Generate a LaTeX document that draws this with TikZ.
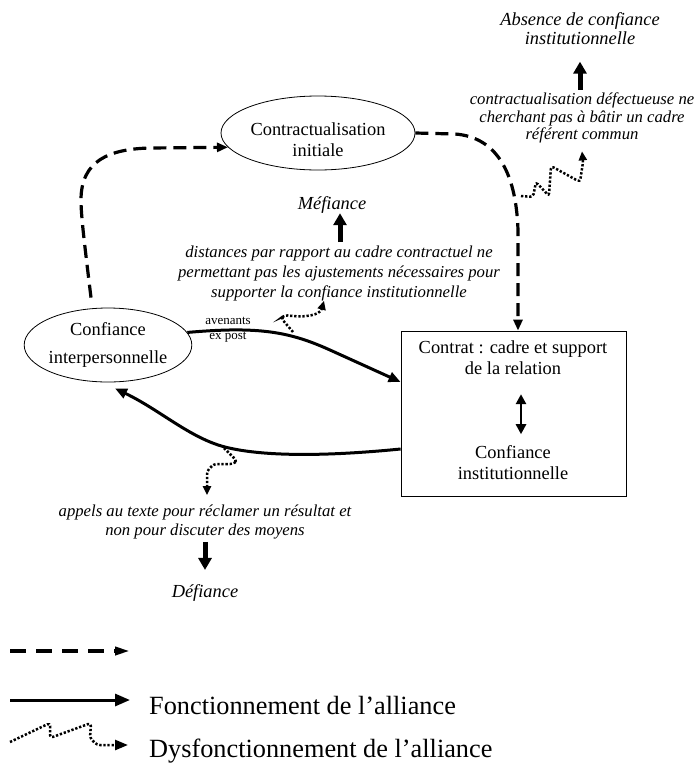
\documentclass[tikz,border=0pt]{standalone}
\usepackage{fontspec}
\setmainfont{Liberation Serif}
\usetikzlibrary{arrows.meta,shapes.geometric}
\tikzset{
 txt/.style={inner sep=0pt, align=center, font=\fontsize{18.4}{21}\selectfont},
 itx/.style={inner sep=0pt, align=center, font=\itshape\fontsize{16.7}{20}\selectfont},
 concl/.style={inner sep=0pt, align=center, font=\itshape\fontsize{18.4}{19}\selectfont},
 ell/.style={draw, ellipse, line width=0.8pt, inner sep=0pt},
 dashedarrow/.style={line width=3.2pt, dash pattern=on 13pt off 7pt, -{Triangle[length=11pt,width=9pt]}},
 solidarrow/.style={line width=3pt, -{Triangle[length=12pt,width=10pt]}},
 dottedarrow/.style={line width=2.5pt, dash pattern=on 2.3pt off 1.8pt, rounded corners=3pt, -{Triangle[length=9pt,width=8pt]}},
 blockarrow/.style={line width=5pt, -{Triangle[length=12pt,width=13pt]}},
 dblarrow/.style={line width=2.5pt, {Triangle[length=10pt,width=10pt]}-{Triangle[length=10pt,width=10pt]}},
}
\begin{document}
\begin{tikzpicture}[x=1pt,y=-1pt]
\useasboundingbox (0,0) rectangle (695,766);
% nodes
\node[ell, minimum width=194pt, minimum height=74pt] (ci) at (318,133) {};
\node[txt] (citxt) at (318,140) {Contractualisation\\initiale};
\node[ell, minimum width=166pt, minimum height=74pt, font=\fontsize{18.4}{28}\selectfont, align=center] (ip) at (108,345) {Confiance\\interpersonnelle};
\node[draw, line width=0.8pt, minimum width=225pt, minimum height=165pt, inner sep=0pt] (box) at (513.5,413.5) {};
\node[txt] (ctr) at (513,358) {Contrat : cadre et support\\de la relation};
\node[txt] (inst) at (513,463) {Confiance\\institutionnelle};
\node[concl, anchor=base] (mef) at (332,209) {Méfiance};
\node[itx] (dist) at (339,273) {distances par rapport au cadre contractuel ne\\permettant pas les ajustements nécessaires pour\\supporter la confiance institutionnelle};
\node[concl] (abs) at (580,29) {Absence de confiance\\institutionnelle};
\node[itx, font=\itshape\fontsize{16.7}{17.5}\selectfont] (cd) at (582,118) {contractualisation défectueuse ne\\cherchant pas à bâtir un cadre\\référent commun};
\node[itx, font=\itshape\fontsize{16.7}{18.3}\selectfont] (app) at (205,522) {appels au texte pour réclamer un résultat et\\non pour discuter des moyens};
\node[concl, anchor=base] (def) at (205,597) {Défiance};
\node[inner sep=0pt, align=center, font=\fontsize{13}{15}\selectfont] (av) at (228,330) {avenants\\ex post};
% block arrows
\draw[blockarrow] ([xshift=1pt,yshift=3pt]dist.north) -- ++(0,-29);
\draw[blockarrow] ([xshift=-2pt,yshift=3pt]cd.north) -- ++(0,-28);
\draw[blockarrow] ([yshift=-3pt]app.south) -- ++(0,28);
\draw[dblarrow] ([xshift=8pt,yshift=-19pt]ctr.south) -- ([xshift=8pt,yshift=11.5pt]inst.north);
% dashed
\draw[dashedarrow] ([xshift=-17pt,yshift=10pt]ip.north) .. controls (84,240) and (81,215) .. (81,200) .. controls (81,160) and (110,149) .. (150,148) -- (ci.189);
\draw[dashedarrow] (ci.east) -- (455,134) .. controls (495,137) and (516,170) .. (518,230) -- ([xshift=4.5pt]box.north);
% solid
\draw[solidarrow] (ip.9) .. controls (260,326) and (290,332) .. (330,350) -- (box.west |- 0,382);
\draw[solidarrow] (box.west |- 0,449) .. controls (320,457) and (260,456) .. (225,447) .. controls (190,438) and (160,410) .. ([xshift=7pt,yshift=-6pt]ip.south);
% dotted zigzags
\coordinate (z1) at (293,332);
\draw[dottedarrow] (z1) -- (281,318) -- (285,315) .. controls (305,318) and (320,315) .. ([xshift=-15pt]dist.south);
\coordinate (z2) at (521,196);
\draw[dottedarrow] (z2) -- (533,197) -- (536,182) -- (549,196) -- (551,166) -- (580,182) -- (583,162) -- ([yshift=-8pt]cd.south);
\coordinate (z3) at (224,448);
\draw[dottedarrow] (z3) -- (237,461) -- (233,464) -- (214,464) -- (207,471) -- ([xshift=2pt,yshift=10pt]app.north);
% legend
\coordinate (la1) at (10,651); \coordinate (la2) at (130,651);
\draw[line width=3.6pt, dash pattern=on 16pt off 10pt, -{Triangle[length=15pt,width=8pt]}] (la1) -- (la2);
\coordinate (lb1) at (10,700); \coordinate (lb2) at (130,700);
\draw[solidarrow, -{Triangle[length=15pt,width=12pt]}] (lb1) -- (lb2);
\coordinate (lc1) at (10,742); \coordinate (lc2) at (128,745);
\draw[dottedarrow, -{Triangle[length=13pt,width=10pt]}] (lc1) -- (50,723) -- (50,738) -- (91,723) -- (90,738) -- (97,745) -- (lc2);
\node[anchor=base west, inner sep=0pt, font=\fontsize{26.3}{30}\selectfont] (leg2) at (149,714) {Fonctionnement de l’alliance};
\node[anchor=base west, inner sep=0pt, font=\fontsize{26.3}{30}\selectfont] (leg3) at (149,757) {Dysfonctionnement de l’alliance};
\end{tikzpicture}
\end{document}
